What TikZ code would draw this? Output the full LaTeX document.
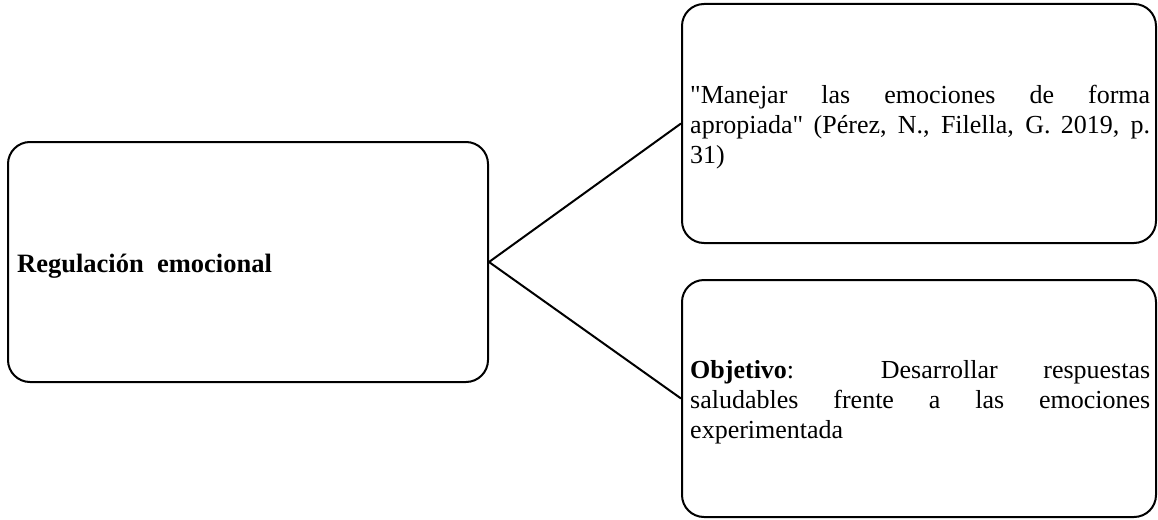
\documentclass[tikz,border=0pt]{standalone}
\usepackage{fontspec}
\setmainfont{Liberation Serif}[Ligatures=TeXOff]
\begin{document}
\begin{tikzpicture}[x=1pt,y=-1pt,
  box/.style={draw=black,line width=2pt,rounded corners=22pt,inner sep=0pt},
  link/.style={draw=black,line width=2pt},
  bodytext/.style={inner sep=0pt,anchor=base west,text width=460pt,align=justify,
    font=\fontsize{26}{30}\selectfont},
  titletext/.style={inner sep=0pt,anchor=base west,font=\fontsize{26.5}{30}\selectfont\bfseries}]
  \useasboundingbox (0,0) rectangle (1158,519);
  % boxes
  \node[box,minimum width=480pt,minimum height=240pt] (reg) at (248,262) {};
  \node[box,minimum width=474pt,minimum height=239pt] (cita) at (919,123.5) {};
  \node[box,minimum width=474pt,minimum height=237pt] (obj) at (919,398.5) {};
  % texts
  \node[titletext] (regtxt) at (17,272) {Regulación\ \ emocional};
  \node[bodytext] (citatxt) at (690,103) {\hyphenpenalty=10000
    "Manejar las emociones de forma\linebreak apropiada" (Pérez, N., Filella, G. 2019, p.\linebreak 31)};
  \node[bodytext] (objtxt) at (690,378) {\hyphenpenalty=10000
    \textbf{Objetivo}: Desarrollar respuestas\linebreak saludables frente a las emociones\linebreak experimentada};
  % connectors
  \draw[link] (reg.east) -- (cita.west);
  \draw[link] (reg.east) -- (obj.west);
\end{tikzpicture}
\end{document}
